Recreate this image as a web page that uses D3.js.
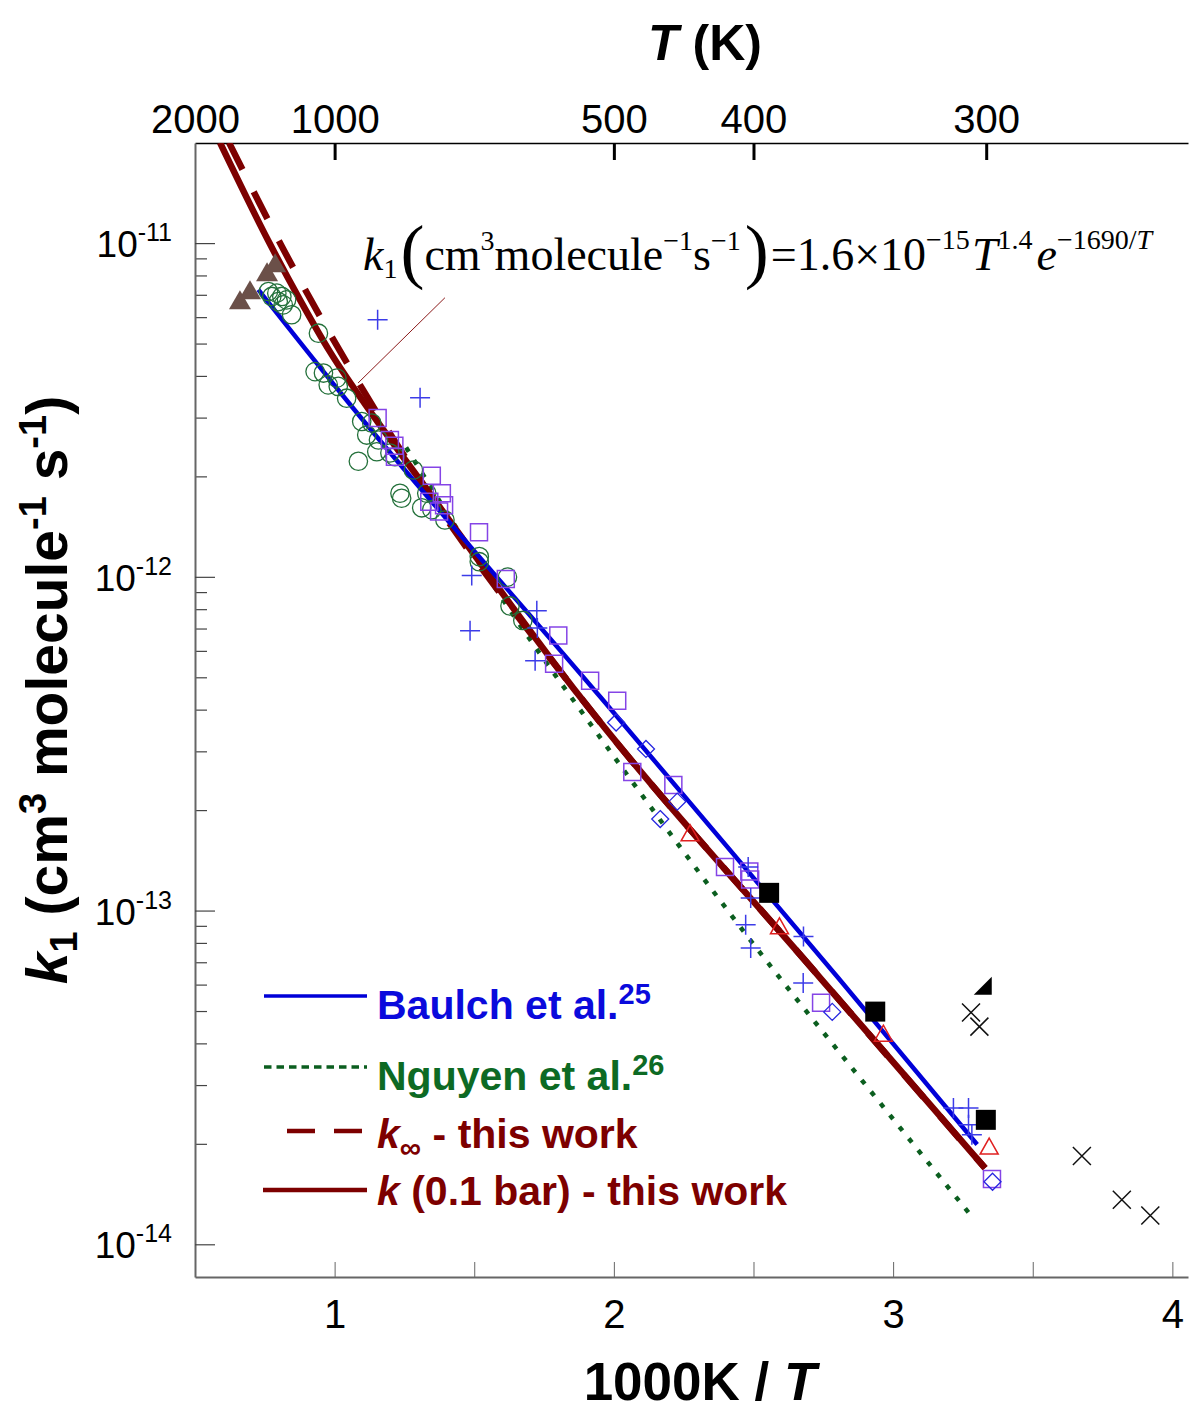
<!DOCTYPE html>
<html>
<head>
<meta charset="utf-8">
<script src="https://cdn.jsdelivr.net/npm/d3@7"></script>
<style>
  body { margin: 0; background: #fff; }
  svg text { font-family: "Liberation Sans", Arial, Helvetica, sans-serif; }
  svg text.serif { font-family: "Liberation Serif", "Times New Roman", serif; }
</style>
</head>
<body>
<svg id="chart" width="1190" height="1410"></svg>
<script>
// x = 1000/T, y = k1 (cm3 molecule-1 s-1)
const xDomain = [0.5, 4.056];
const yDomain = [7.98e-15, 1.995e-11];
const bottomTicks = [1, 1.5, 2, 2.5, 3, 3.5, 4];
const topTicksT = [2000, 1000, 500, 400, 300];
const decades = [1e-14, 1e-13, 1e-12, 1e-11];

// fitted curves
const baulch = [[0.727, 7.25e-12], [1.019, 3.58e-12], [1.951, 4.37e-13], [2.803, 6.29e-14], [3.301, 1.99e-14]];
const nguyen = [[1.256, 2.44e-12], [1.693, 6.61e-13], [1.879, 4.00e-13], [2.595, 6.27e-14], [2.834, 3.53e-14], [3.282, 1.21e-14]];
const kLow = [[0.5895, 2.00e-11], [0.7615, 1.02e-11], [0.876, 6.76e-12], [0.9835, 4.72e-12], [1.116, 3.23e-12],
              [1.306, 1.95e-12], [1.879, 4.37e-13], [2.7385, 6.29e-14], [3.3295, 1.69e-14]];
const kInf = [[0.6218, 2.00e-11], [0.8116, 9.75e-12], [0.9047, 7.00e-12], [1.1017, 3.63e-12],
              [1.306, 1.95e-12], [1.879, 4.37e-13], [2.7385, 6.29e-14], [3.3295, 1.69e-14]];
const leaderLine = [[1.395, 6.86e-12], [1.084, 3.81e-12]];

// experimental points
const brownTriangles = [[0.661, 6.76e-12], [0.697, 7.25e-12], [0.758, 8.20e-12], [0.787, 8.73e-12]];
const greenCircles = [
  [0.763, 7.16e-12], [0.775, 6.92e-12], [0.793, 7.08e-12], [0.811, 6.92e-12], [0.798, 6.68e-12],
  [0.828, 6.76e-12], [0.816, 6.53e-12], [0.846, 6.10e-12], [0.942, 5.37e-12], [0.930, 4.12e-12],
  [0.960, 4.08e-12], [0.977, 3.76e-12], [1.008, 3.94e-12], [1.013, 3.72e-12], [1.043, 3.43e-12],
  [1.097, 2.92e-12], [1.133, 2.89e-12], [1.115, 2.66e-12], [1.157, 2.57e-12], [1.151, 2.37e-12],
  [1.198, 2.35e-12], [1.216, 2.29e-12], [1.085, 2.22e-12], [1.282, 2.09e-12], [1.234, 1.78e-12],
  [1.240, 1.72e-12], [1.330, 1.78e-12], [1.312, 1.61e-12], [1.348, 1.59e-12], [1.395, 1.48e-12],
  [1.518, 1.15e-12], [1.518, 1.11e-12], [1.619, 9.98e-13], [1.628, 8.18e-13], [1.674, 7.40e-13]
];
const purpleSquares = [
  [1.154, 2.99e-12], [1.198, 2.57e-12], [1.214, 2.47e-12], [1.216, 2.29e-12], [1.348, 2.01e-12],
  [1.384, 1.78e-12], [1.339, 1.68e-12], [1.392, 1.64e-12], [1.374, 1.57e-12], [1.517, 1.36e-12],
  [1.613, 9.86e-13], [1.801, 6.67e-13], [1.786, 5.49e-13], [1.915, 4.88e-13], [2.012, 4.25e-13],
  [2.066, 2.60e-13], [2.213, 2.38e-13], [2.398, 1.35e-13], [2.485, 1.31e-13], [2.488, 1.24e-13],
  [2.742, 5.29e-14], [3.354, 1.57e-14]
];
const blueDiamonds = [[2.008, 3.66e-13], [2.115, 3.05e-13], [2.227, 2.12e-13], [2.166, 1.88e-13], [2.782, 4.97e-14], [3.356, 1.54e-14]];
const bluePluses = [
  [1.154, 5.89e-12], [1.306, 3.44e-12], [1.491, 1.01e-12], [1.485, 6.89e-13], [1.724, 7.91e-13],
  [1.726, 7.02e-13], [1.718, 5.60e-13], [2.481, 1.35e-13], [2.490, 1.09e-13], [2.472, 9.06e-14],
  [2.490, 7.72e-14], [2.679, 8.36e-14], [2.678, 6.07e-14], [3.216, 2.56e-14], [3.270, 2.56e-14],
  [3.270, 2.28e-14], [3.282, 2.13e-14]
];
const redTriangles = [[2.273, 1.71e-13], [2.593, 9.00e-14], [2.965, 4.29e-14], [3.344, 1.97e-14]];
const blackSquares = [[2.556, 1.13e-13], [2.936, 4.98e-14], [3.332, 2.36e-14]];
const blackHalfTriangles = [[3.321, 5.95e-14]];
const blackCrosses = [[3.279, 4.95e-14], [3.309, 4.49e-14], [3.676, 1.84e-14], [3.819, 1.36e-14], [3.921, 1.22e-14]];

const darkRed = "#7d0000";

const svg = d3.select("#chart");
const x = d3.scaleLinear().domain(xDomain).range([195, 1188]);
const y = d3.scaleLog().domain(yDomain).range([1277, 143]);

svg.append("defs").append("clipPath").attr("id", "plot")
  .append("rect").attr("x", 195).attr("y", 143).attr("width", 993).attr("height", 1134);

// ---- axes ----
const bottomAxis = svg.append("g").attr("transform", "translate(0,1277)")
  .call(d3.axisBottom(x).tickValues(bottomTicks).tickSize(-15).tickSizeOuter(0).tickPadding(23)
    .tickFormat(d => Number.isInteger(d) ? d : ""));
bottomAxis.select(".domain").attr("stroke", "#666").attr("stroke-width", 2);
bottomAxis.selectAll(".tick line").attr("stroke", "#666").attr("stroke-width", 1);
bottomAxis.selectAll("text").attr("font-size", 40).attr("fill", "#000");

const topAxis = svg.append("g").attr("transform", "translate(0,143)")
  .call(d3.axisTop(x).tickValues(topTicksT.map(t => 1000 / t)).tickSize(-17).tickSizeOuter(0).tickPadding(10)
    .tickFormat((d, i) => topTicksT[i]));
topAxis.select(".domain").attr("stroke", "#000").attr("stroke-width", 1.5);
topAxis.selectAll(".tick line").attr("stroke", "#000").attr("stroke-width", 3)
  .attr("opacity", (d, i) => i === 0 ? 0 : 1);
topAxis.selectAll("text").attr("font-size", 40).attr("fill", "#000");

const minors = [];
decades.forEach(dec => {
  for (let m = 2; m <= 9; m++) {
    const v = dec * m;
    if (v > 8.5e-15 && v < yDomain[1]) minors.push(v);
  }
});
const leftMinor = svg.append("g").attr("transform", "translate(195,0)")
  .call(d3.axisLeft(y).tickValues(minors).tickSize(-12).tickSizeOuter(0).tickFormat(""));
leftMinor.select(".domain").remove();
leftMinor.selectAll(".tick line").attr("stroke", "#444").attr("stroke-width", 1.2);

const leftMajor = svg.append("g").attr("transform", "translate(195,0)")
  .call(d3.axisLeft(y).tickValues(decades).tickSize(-20).tickSizeOuter(0).tickFormat(""));
leftMajor.select(".domain").attr("stroke", "#666").attr("stroke-width", 2);
leftMajor.selectAll(".tick line").attr("stroke", "#444").attr("stroke-width", 1.2);

decades.forEach(dec => {
  const t = svg.append("text").attr("x", 172).attr("y", y(dec) + 14)
    .attr("text-anchor", "end").attr("font-size", 37);
  t.append("tspan").text("10");
  t.append("tspan").attr("font-size", 25).attr("dy", -16).text(String(Math.round(Math.log10(dec))));
});

// axis titles
const topTitle = svg.append("text").attr("x", 705).attr("y", 60).attr("text-anchor", "middle")
  .attr("font-size", 50).attr("font-weight", "bold");
topTitle.append("tspan").attr("font-style", "italic").text("T");
topTitle.append("tspan").text(" (K)");

const bottomTitle = svg.append("text").attr("x", 700).attr("y", 1400).attr("text-anchor", "middle")
  .attr("font-size", 53).attr("font-weight", "bold");
bottomTitle.append("tspan").text("1000K / ");
bottomTitle.append("tspan").attr("font-style", "italic").text("T");

const yTitle = svg.append("text").attr("transform", "translate(67,690) rotate(-90)")
  .attr("text-anchor", "middle").attr("font-size", 57).attr("font-weight", "bold");
yTitle.append("tspan").attr("font-style", "italic").text("k");
yTitle.append("tspan").attr("font-size", 38).attr("dy", 10).text("1");
yTitle.append("tspan").attr("dy", -10).text(" (cm");
yTitle.append("tspan").attr("font-size", 38).attr("dy", -21).text("3");
yTitle.append("tspan").attr("dy", 21).text(" molecule");
yTitle.append("tspan").attr("font-size", 38).attr("dy", -21).text("-1");
yTitle.append("tspan").attr("dy", 21).text(" s");
yTitle.append("tspan").attr("font-size", 38).attr("dy", -21).text("-1");
yTitle.append("tspan").attr("dy", 21).text(")");

// ---- curves ----
const line = d3.line().x(d => x(d[0])).y(d => y(d[1])).curve(d3.curveMonotoneX);
const curves = svg.append("g").attr("clip-path", "url(#plot)").attr("fill", "none");
curves.append("path").attr("d", line(nguyen)).attr("stroke", "#0b5e1f").attr("stroke-width", 4.5)
  .attr("stroke-dasharray", "5,10");
curves.append("path").attr("d", line(kLow)).attr("stroke", darkRed).attr("stroke-width", 6.5);
curves.append("path").attr("d", line(kInf)).attr("stroke", darkRed).attr("stroke-width", 6.5)
  .attr("stroke-dasharray", "30,25");
curves.append("path").attr("d", line(baulch)).attr("stroke", "#0000d8").attr("stroke-width", 4.5);
curves.append("path").attr("d", d3.line().x(d => x(d[0])).y(d => y(d[1]))(leaderLine))
  .attr("stroke", "#8b1a1a").attr("stroke-width", 1);

// ---- markers ----
const tri = (w, h) => `M0,${-h / 2}L${w / 2},${h / 2}L${-w / 2},${h / 2}Z`;
const diamond = s => `M0,${-s / 2}L${s / 2},0L0,${s / 2}L${-s / 2},0Z`;
const plus = s => `M${-s / 2},0H${s / 2}M0,${-s / 2}V${s / 2}`;
const cross = s => `M${-s / 2},${-s / 2}L${s / 2},${s / 2}M${-s / 2},${s / 2}L${s / 2},${-s / 2}`;
const square = s => `M${-s / 2},${-s / 2}H${s / 2}V${s / 2}H${-s / 2}Z`;
const halfTri = s => `M${-s / 2},${s / 2}H${s / 2}V${-s / 2}Z`;

const marks = svg.append("g");
function drawMarks(data, pathStr, fill, stroke, sw) {
  marks.append("g").selectAll("path").data(data).enter().append("path")
    .attr("transform", d => `translate(${x(d[0])},${y(d[1])})`)
    .attr("d", pathStr)
    .attr("fill", fill)
    .attr("stroke", stroke)
    .attr("stroke-width", sw);
}
marks.append("g").selectAll("circle").data(greenCircles).enter().append("circle")
  .attr("cx", d => x(d[0])).attr("cy", d => y(d[1])).attr("r", 9.2)
  .attr("fill", "none").attr("stroke", "#23703a").attr("stroke-width", 1.3);
drawMarks(brownTriangles, tri(22, 19), "#6b5049", "none", 0);
drawMarks(purpleSquares, square(17), "none", "#8544e6", 1.5);
drawMarks(blueDiamonds, diamond(17), "none", "#2626e0", 1.3);
drawMarks(bluePluses, plus(20), "none", "#3c3ce8", 1.5);
drawMarks(redTriangles, tri(18, 16), "none", "#e02020", 1.5);
drawMarks(blackSquares, square(20), "#000", "none", 0);
drawMarks(blackHalfTriangles, halfTri(18), "#000", "none", 0);
drawMarks(blackCrosses, cross(18), "none", "#111", 1.5);

// ---- equation ----
const eq = svg.append("text").attr("class", "serif").attr("x", 363).attr("y", 270).attr("font-size", 46);
eq.append("tspan").attr("font-style", "italic").text("k");
eq.append("tspan").attr("font-size", 28).attr("dy", 8).text("1");
eq.append("tspan").attr("font-size", 72).attr("dy", -3).attr("dx", 3).text("(");
eq.append("tspan").attr("dy", -5).text("cm");
eq.append("tspan").attr("font-size", 28).attr("dy", -20).text("3");
eq.append("tspan").attr("dy", 20).text("molecule");
eq.append("tspan").attr("font-size", 28).attr("dy", -20).text("\u22121");
eq.append("tspan").attr("dy", 20).text("s");
eq.append("tspan").attr("font-size", 28).attr("dy", -20).text("\u22121");
eq.append("tspan").attr("font-size", 72).attr("dy", 25).attr("dx", 4).text(")");
eq.append("tspan").attr("dy", -5).attr("dx", 2).text("=1.6\u00d710");
eq.append("tspan").attr("font-size", 28).attr("dy", -21).text("\u221215");
eq.append("tspan").attr("font-style", "italic").attr("dy", 21).attr("dx", 2).text("T");
eq.append("tspan").attr("font-size", 28).attr("dy", -21).text("1.4");
eq.append("tspan").attr("font-style", "italic").attr("dy", 21).attr("dx", 4).text("e");
eq.append("tspan").attr("font-size", 28).attr("dy", -21).text("\u22121690/");
eq.append("tspan").attr("font-size", 28).attr("font-style", "italic").text("T");

// ---- legend ----
const legend = svg.append("g").attr("font-size", 41).attr("font-weight", "bold");
legend.append("line").attr("x1", 264).attr("x2", 367).attr("y1", 996).attr("y2", 996)
  .attr("stroke", "#0000d8").attr("stroke-width", 3.5);
legend.append("line").attr("x1", 264).attr("x2", 367).attr("y1", 1067).attr("y2", 1067)
  .attr("stroke", "#0b5e1f").attr("stroke-width", 3.5).attr("stroke-dasharray", "7.5,5");
legend.append("line").attr("x1", 287).attr("x2", 362).attr("y1", 1131).attr("y2", 1131)
  .attr("stroke", darkRed).attr("stroke-width", 4.5).attr("stroke-dasharray", "28,19");
legend.append("line").attr("x1", 263).attr("x2", 367).attr("y1", 1190).attr("y2", 1190)
  .attr("stroke", darkRed).attr("stroke-width", 4.5);

const l1 = legend.append("text").attr("x", 377).attr("y", 1019).attr("fill", "#0a0adc");
l1.append("tspan").text("Baulch et al.");
l1.append("tspan").attr("font-size", 29).attr("dy", -15).text("25");
const l2 = legend.append("text").attr("x", 377).attr("y", 1090).attr("fill", "#0d6a24");
l2.append("tspan").text("Nguyen et al.");
l2.append("tspan").attr("font-size", 29).attr("dy", -15).text("26");
const l3 = legend.append("text").attr("x", 377).attr("y", 1148).attr("fill", darkRed);
l3.append("tspan").attr("font-style", "italic").text("k");
l3.append("tspan").attr("font-size", 30).attr("dy", 10).text("\u221e");
l3.append("tspan").attr("dy", -10).text(" - this work");
const l4 = legend.append("text").attr("x", 377).attr("y", 1205).attr("fill", darkRed);
l4.append("tspan").attr("font-style", "italic").text("k");
l4.append("tspan").text(" (0.1 bar) - this work");
</script>
</body>
</html>
